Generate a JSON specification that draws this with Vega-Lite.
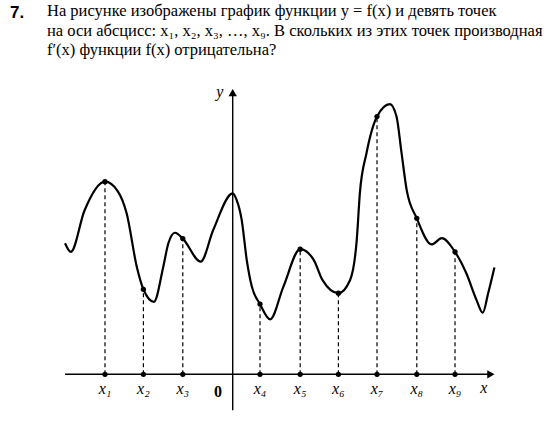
{
  "$schema": "https://vega.github.io/schema/vega-lite/v6.json",
  "autosize": "none",
  "width": 557,
  "height": 354,
  "padding": {"left": 0, "top": 70, "right": 0, "bottom": 0},
  "background": "white",
  "config": {"view": {"stroke": null}},
  "title": {
    "text": "На рисунке изображены график функции y = f(x) и девять точек",
    "subtitle": [
      "на оси абсцисс: x₁, x₂, x₃, …, x₉. В скольких из этих точек производная",
      "f′(x) функции f(x) отрицательна?"
    ],
    "anchor": "start",
    "frame": "group",
    "dx": 47,
    "offset": -55,
    "font": "Liberation Serif",
    "fontSize": 16.5,
    "fontWeight": "normal",
    "color": "black",
    "subtitleFont": "Liberation Serif",
    "subtitleFontSize": 16.5,
    "subtitleColor": "black",
    "subtitleLineHeight": 19,
    "subtitlePadding": 4
  },
  "datasets": {
    "curve": [
      {"x": -4.30, "y": 3.36}, {"x": -4.15, "y": 3.14}, {"x": -3.80, "y": 4.20},
      {"x": -3.275, "y": 4.94}, {"x": -2.95, "y": 4.70}, {"x": -2.72, "y": 4.13},
      {"x": -2.46, "y": 2.76}, {"x": -2.29, "y": 2.18}, {"x": -2.02, "y": 1.86},
      {"x": -1.78, "y": 2.76}, {"x": -1.65, "y": 3.36}, {"x": -1.48, "y": 3.63},
      {"x": -1.28, "y": 3.48}, {"x": -0.82, "y": 2.89}, {"x": -0.50, "y": 3.70},
      {"x": 0, "y": 4.64}, {"x": 0.10, "y": 4.47}, {"x": 0.23, "y": 3.96},
      {"x": 0.36, "y": 2.93}, {"x": 0.49, "y": 2.25}, {"x": 0.70, "y": 1.80},
      {"x": 0.96, "y": 1.41}, {"x": 1.30, "y": 2.25}, {"x": 1.73, "y": 3.21},
      {"x": 2.08, "y": 2.93}, {"x": 2.30, "y": 2.42}, {"x": 2.71, "y": 2.08},
      {"x": 3.01, "y": 2.42}, {"x": 3.18, "y": 3.44}, {"x": 3.26, "y": 4.64},
      {"x": 3.43, "y": 5.67}, {"x": 3.70, "y": 6.61}, {"x": 4.03, "y": 6.93},
      {"x": 4.20, "y": 6.61}, {"x": 4.33, "y": 5.67}, {"x": 4.46, "y": 4.73},
      {"x": 4.72, "y": 4.00}, {"x": 5.10, "y": 3.33}, {"x": 5.36, "y": 3.49},
      {"x": 5.70, "y": 3.14}, {"x": 5.99, "y": 2.59}, {"x": 6.25, "y": 1.91},
      {"x": 6.41, "y": 1.58}, {"x": 6.55, "y": 2.08}, {"x": 6.71, "y": 2.74}
    ],
    "points": [
      {"x": -3.275, "y": 4.94, "y0": 0, "label": "x₁"},
      {"x": -2.29, "y": 2.18, "y0": 0, "label": "x₂"},
      {"x": -1.28, "y": 3.48, "y0": 0, "label": "x₃"},
      {"x": 0.70, "y": 1.80, "y0": 0, "label": "x₄"},
      {"x": 1.73, "y": 3.21, "y0": 0, "label": "x₅"},
      {"x": 2.71, "y": 2.08, "y0": 0, "label": "x₆"},
      {"x": 3.70, "y": 6.61, "y0": 0, "label": "x₇"},
      {"x": 4.72, "y": 4.00, "y0": 0, "label": "x₈"},
      {"x": 5.70, "y": 3.14, "y0": 0, "label": "x₉"}
    ],
    "axes": [
      {"x": -4.30, "y": 0, "x2": 6.60, "y2": 0},
      {"x": 0, "y": -0.92, "x2": 0, "y2": 7.20}
    ],
    "xarrow": [{"x": 6.62, "y": 0}],
    "yarrow": [{"x": 0, "y": 7.22}],
    "names": [
      {"x": 6.44, "y": -0.36, "label": "x"},
      {"x": -0.33, "y": 7.24, "label": "y"}
    ],
    "origin": [
      {"x": -0.38, "y": -0.45, "label": "0"}
    ],
    "number": [
      {"x": -5.53, "y": 9.47, "label": "7."}
    ]
  },
  "layer": [
    {
      "data": {"name": "axes"},
      "mark": {"type": "rule", "color": "black", "strokeWidth": 1.4},
      "encoding": {
        "x": {"field": "x", "type": "quantitative", "scale": {"domain": [-5.967, 8.315], "nice": false, "zero": false}, "axis": null},
        "y": {"field": "y", "type": "quantitative", "scale": {"domain": [-1.274, 7.803], "nice": false, "zero": false}, "axis": null},
        "x2": {"field": "x2"},
        "y2": {"field": "y2"}
      }
    },
    {
      "data": {"name": "xarrow"},
      "mark": {"type": "point", "shape": "triangle-right", "filled": true, "color": "black", "opacity": 1, "size": 70},
      "encoding": {
        "x": {"field": "x", "type": "quantitative"},
        "y": {"field": "y", "type": "quantitative"}
      }
    },
    {
      "data": {"name": "yarrow"},
      "mark": {"type": "point", "shape": "triangle-up", "filled": true, "color": "black", "opacity": 1, "size": 70},
      "encoding": {
        "x": {"field": "x", "type": "quantitative"},
        "y": {"field": "y", "type": "quantitative"}
      }
    },
    {
      "data": {"name": "points"},
      "mark": {"type": "rule", "color": "black", "strokeWidth": 1.2, "strokeDash": [4, 3]},
      "encoding": {
        "x": {"field": "x", "type": "quantitative"},
        "y": {"field": "y0", "type": "quantitative"},
        "y2": {"field": "y"}
      }
    },
    {
      "data": {"name": "curve"},
      "mark": {"type": "line", "color": "black", "strokeWidth": 2.2, "interpolate": "monotone"},
      "encoding": {
        "x": {"field": "x", "type": "quantitative"},
        "y": {"field": "y", "type": "quantitative"}
      }
    },
    {
      "data": {"name": "points"},
      "mark": {"type": "circle", "color": "black", "opacity": 1, "size": 28},
      "encoding": {
        "x": {"field": "x", "type": "quantitative"},
        "y": {"field": "y", "type": "quantitative"}
      }
    },
    {
      "data": {"name": "points"},
      "mark": {"type": "circle", "color": "black", "opacity": 1, "size": 28},
      "encoding": {
        "x": {"field": "x", "type": "quantitative"},
        "y": {"field": "y0", "type": "quantitative"}
      }
    },
    {
      "data": {"name": "points"},
      "mark": {"type": "text", "font": "Liberation Serif", "fontStyle": "italic", "fontSize": 16, "color": "black", "baseline": "top", "align": "center", "dy": 7},
      "encoding": {
        "x": {"field": "x", "type": "quantitative"},
        "y": {"field": "y0", "type": "quantitative"},
        "text": {"field": "label"}
      }
    },
    {
      "data": {"name": "names"},
      "mark": {"type": "text", "font": "Liberation Serif", "fontStyle": "italic", "fontSize": 16, "color": "black", "baseline": "middle", "align": "center"},
      "encoding": {
        "x": {"field": "x", "type": "quantitative"},
        "y": {"field": "y", "type": "quantitative"},
        "text": {"field": "label"}
      }
    },
    {
      "data": {"name": "origin"},
      "mark": {"type": "text", "font": "Liberation Serif", "fontWeight": "bold", "fontSize": 16, "color": "black", "baseline": "middle", "align": "center"},
      "encoding": {
        "x": {"field": "x", "type": "quantitative"},
        "y": {"field": "y", "type": "quantitative"},
        "text": {"field": "label"}
      }
    },
    {
      "data": {"name": "number"},
      "mark": {"type": "text", "font": "Liberation Sans", "fontWeight": "bold", "fontSize": 17, "color": "black", "baseline": "top", "align": "center"},
      "encoding": {
        "x": {"field": "x", "type": "quantitative"},
        "y": {"field": "y", "type": "quantitative"},
        "text": {"field": "label"}
      }
    }
  ]
}
